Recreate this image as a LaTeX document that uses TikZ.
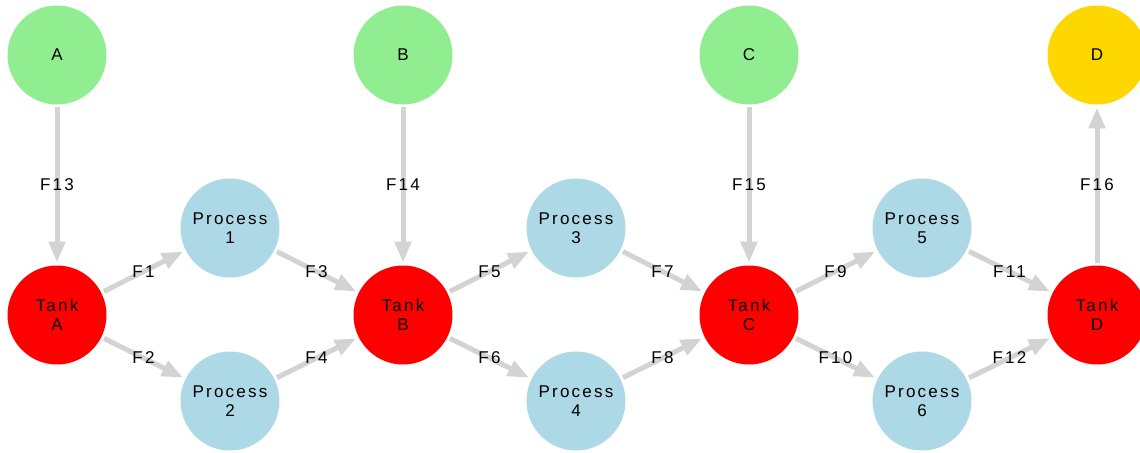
\documentclass[tikz,border=0pt]{standalone}
\usepackage{fontspec}
\newfontfamily\flowfont[LetterSpace=13]{Liberation Sans}
\usetikzlibrary{
	arrows.meta,
	positioning,
}
\definecolor{feedgreen}{HTML}{90EE90}
\definecolor{tankred}{HTML}{FF0000}
\definecolor{procblue}{HTML}{ADD8E6}
\definecolor{prodgold}{HTML}{FFD700}
\definecolor{pipegray}{HTML}{D3D3D3}
\tikzset{feed/.style={
		% The shape:
		circle,
		% The size:
		minimum size=1.98cm,inner sep=0pt,outer sep=0.06cm,
		% The filling:
		fill=feedgreen,
		% make sure text aligns properly
		align=center,
}}
\tikzset{product/.style={
		feed,fill=prodgold,
}}
\tikzset{tank/.style={
		% The shape:
		circle,
		% The size:
		minimum size=1.98cm,inner sep=0pt,outer sep=0.06cm,
		% The filling:
		fill=tankred,
		% make sure text aligns properly
		align=center,
}}
\tikzset{process/.style={
		tank,fill=procblue,
}}
\tikzset{flow/.style={
		% a thick light gray pipe with a filled head
		->,line width=0.1cm,draw=pipegray,
		every node/.style={midway,text=black},
}}

\begin{document}
\begin{tikzpicture}[x=0.02cm,y=-0.02cm,
	>={Triangle[length=0.42cm,width=0.32cm]},
	font=\flowfont\fontsize{9.7}{11}\selectfont]
	\useasboundingbox (0,0) rectangle (1140,453);
	% feeds and product
	\node[feed] (A) at (57,55) {A};
	\node[feed] (B) at (403,55) {B};
	\node[feed] (C) at (749,55) {C};
	\node[product] (D) at (1097,55) {D};
	% tanks
	\node[tank] (tankA) at (57,315) {Tank\\A};
	\node[tank] (tankB) at (403,315) {Tank\\B};
	\node[tank] (tankC) at (749,315) {Tank\\C};
	\node[tank] (tankD) at (1097,315) {Tank\\D};
	% processes
	\node[process] (proc1) at (230,228) {Process\\1};
	\node[process] (proc2) at (230,401) {Process\\2};
	\node[process] (proc3) at (576,228) {Process\\3};
	\node[process] (proc4) at (576,401) {Process\\4};
	\node[process] (proc5) at (922,228) {Process\\5};
	\node[process] (proc6) at (922,401) {Process\\6};
	% flows
	\foreach \from/\to/\lbl in {tankA/proc1/F1,tankA/proc2/F2,proc1/tankB/F3,proc2/tankB/F4,
		tankB/proc3/F5,tankB/proc4/F6,proc3/tankC/F7,proc4/tankC/F8,
		tankC/proc5/F9,tankC/proc6/F10,proc5/tankD/F11,proc6/tankD/F12,
		A/tankA/F13,B/tankB/F14,C/tankC/F15,tankD/D/F16}
		\draw[flow] (\from) -- node {\lbl} (\to);
\end{tikzpicture}
\end{document}
